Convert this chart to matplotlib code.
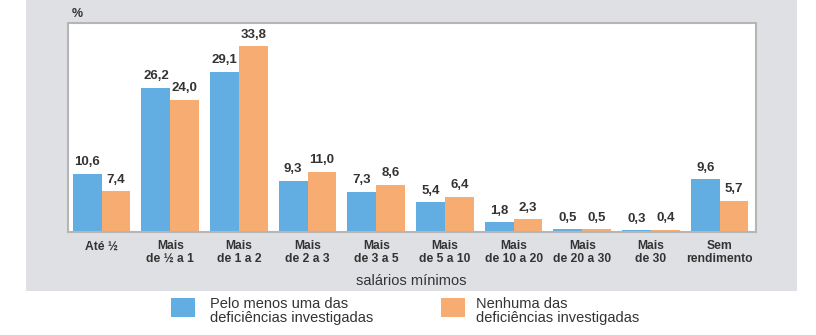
import numpy as np
import matplotlib
matplotlib.use('Agg')
import matplotlib.pyplot as plt
from matplotlib.patches import Rectangle

categories = ['Até ½', 'Mais\nde ½ a 1', 'Mais\nde 1 a 2', 'Mais\nde 2 a 3', 'Mais\nde 3 a 5',
              'Mais\nde 5 a 10', 'Mais\nde 10 a 20', 'Mais\nde 20 a 30', 'Mais\nde 30', 'Sem\nrendimento']
com_deficiencia = [10.6, 26.2, 29.1, 9.3, 7.3, 5.4, 1.8, 0.5, 0.3, 9.6]
sem_deficiencia = [7.4, 24.0, 33.8, 11.0, 8.6, 6.4, 2.3, 0.5, 0.4, 5.7]
series_names = ['Pelo menos uma das\ndeficiências investigadas',
                'Nenhuma das\ndeficiências investigadas']

blue = '#62AEE2'
orange = '#F7AC72'
panel = '#DFE0E4'
txt = '#333333'

plt.rcParams['font.family'] = ['Liberation Sans', 'DejaVu Sans']

fig = plt.figure(figsize=(8.16, 3.35), dpi=100)
fig.patches.append(Rectangle((26/816, 1-291/335), (797-26)/816, 291/335,
                             transform=fig.transFigure, facecolor=panel, edgecolor='none', zorder=-10))

ax = fig.add_axes([68/816, 1-232/335, 688/816, 209/335])
ax.set_facecolor('white')
x = np.arange(len(categories))
w = 0.42
b1 = ax.bar(x - w/2, com_deficiencia, w, color=blue)
b2 = ax.bar(x + w/2, sem_deficiencia, w, color=orange)
for bars, vals in ((b1, com_deficiencia), (b2, sem_deficiencia)):
    for r, v in zip(bars, vals):
        ax.annotate(f'{v:.1f}'.replace('.', ','), (r.get_x() + r.get_width()/2, v),
                    xytext=(0, 4), textcoords='offset points', ha='center', va='bottom',
                    fontsize=9.5, fontweight='bold', color=txt)

ax.set_xlim(-0.49, 9.53)
ax.set_ylim(0, 38)
ax.set_yticks([])
ax.set_xticks(x)
ax.set_xticklabels(categories, fontsize=8.7, fontweight='bold', color=txt, linespacing=1.05)
ax.tick_params(axis='x', length=0, pad=6)
for s in ax.spines.values():
    s.set_color('#B5B5B5')
    s.set_linewidth(1.5)

fig.text(72/816, 1-14/335, '%', fontsize=9, fontweight='bold', color=txt, va='center')
fig.text(411/816, 1-281/335, 'salários mínimos', fontsize=10.5, color=txt, ha='center', va='center')

# legend
for xs, col, name, tx in ((171, blue, series_names[0], 210), (441, orange, series_names[1], 476)):
    fig.patches.append(Rectangle((xs/816, 1-317/335), 24/816, 19/335,
                                 transform=fig.transFigure, facecolor=col, edgecolor='none'))
    fig.text(tx/816, 1-311/335, name, fontsize=10.5, color=txt, va='center', linespacing=0.92)

plt.savefig('out.png', dpi=100)
